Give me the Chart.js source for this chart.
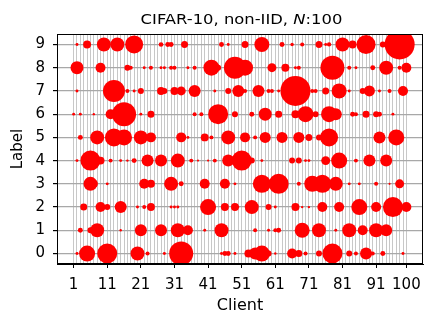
<!DOCTYPE html>
<html lang="en">
<head>
    <meta charset="UTF-8">
    <title>CIFAR-10, non-IID, N:100</title>
    <script src="https://cdn.jsdelivr.net/npm/chart.js"></script>
    <style>
        body {
            margin: 0;
            background: #fff;
            font-family: "DejaVu Sans", sans-serif;
        }
        #wrap {
            position: relative;
            width: 438px;
            height: 327px;
        }
        #title {
            position: absolute;
            left: 57px;
            width: 369px;
            top: 12px;
            text-align: center;
            font-size: 14px;
            line-height: 1;
            color: #000;
            transform: scaleX(1.17);
        }
        canvas {
            position: absolute;
            left: 0;
            top: 0;
        }
    </style>
</head>
<body>
    <div id="wrap">
        <canvas id="chart" width="438" height="327"></canvas>
        <div id="title">CIFAR-10, non-IID, <i>N</i>:100</div>
    </div>

    <script>
        // tick labels
        const xTicks = [1, 11, 21, 31, 41, 51, 61, 71, 81, 91, 100];
        const labelTicks = [0, 1, 2, 3, 4, 5, 6, 7, 8, 9];
        const clients = Array.from({ length: 100 }, (_, i) => i + 1);

        // samples per client for each label: [client, count]
        const label0 = [[2,6],[5,178],[11,278],[20,136],[23,11],[28,6],[33,400],[45,6],[46,17],[47,17],[49,6],[53,44],[55,100],[57,178],[59,25],[61,4],[66,69],[68,34],[70,11],[74,25],[78,278],[83,25],[85,11],[88,100],[90,11],[93,17],[99,6]];
        const label1 = [[3,17],[6,25],[8,136],[15,4],[21,100],[27,100],[32,136],[35,69],[40,6],[45,136],[55,11],[59,6],[61,11],[62,17],[69,156],[74,136],[79,6],[83,136],[87,69],[91,136],[94,100]];
        const label2 = [[4,34],[9,69],[11,25],[15,100],[20,6],[22,11],[24,44],[30,6],[31,6],[32,6],[41,178],[46,44],[49,44],[50,3],[54,136],[59,25],[61,6],[67,44],[69,4],[71,4],[75,69],[80,69],[86,178],[91,69],[96,278],[100,69]];
        const label3 = [[6,136],[7,44],[11,6],[22,69],[24,44],[30,136],[33,17],[40,69],[46,69],[49,6],[57,225],[62,278],[68,11],[72,178],[75,225],[79,136],[83,6],[86,6],[91,11],[95,3],[98,56]];
        const label4 = [[2,6],[6,278],[9,44],[12,11],[15,6],[17,4],[19,17],[23,100],[27,100],[32,136],[36,11],[38,3],[41,3],[43,11],[47,100],[51,278],[54,25],[57,6],[66,25],[68,25],[70,6],[71,6],[76,56],[80,178],[85,11],[89,100],[94,100]];
        const label5 = [[3,17],[8,136],[13,225],[16,178],[21,136],[24,69],[33,69],[35,6],[40,44],[42,11],[47,136],[52,69],[55,11],[58,84],[63,84],[68,84],[71,34],[74,25],[77,225],[92,100],[97,178]];
        const label6 = [[1,6],[3,6],[7,4],[12,69],[16,400],[21,6],[24,34],[37,11],[39,11],[44,278],[49,25],[54,17],[58,117],[62,34],[67,44],[70,178],[73,25],[77,178],[79,100],[84,17],[85,11],[88,34],[91,25],[92,17],[96,6]];
        const label7 = [[2,6],[13,336],[17,11],[19,6],[21,25],[27,44],[28,25],[31,44],[33,56],[37,100],[43,6],[47,25],[50,100],[52,11],[56,100],[59,11],[60,11],[62,6],[67,625],[72,11],[73,11],[76,34],[80,156],[83,6],[87,25],[89,84],[92,6],[95,11],[99,69]];
        const label8 = [[2,117],[9,69],[17,25],[18,11],[22,6],[24,11],[27,6],[28,6],[30,11],[31,11],[35,6],[37,11],[42,178],[44,25],[49,336],[52,178],[60,56],[64,44],[67,6],[68,11],[78,400],[83,11],[85,6],[90,17],[94,136],[98,11],[100,69]];
        const label9 = [[2,6],[5,44],[10,136],[14,136],[19,225],[27,15],[29,17],[30,17],[34,34],[45,17],[47,6],[52,34],[57,156],[63,17],[66,8],[69,11],[74,34],[76,6],[77,13],[81,136],[84,44],[88,250],[93,25],[98,625]];

        const rows = [label0, label1, label2, label3, label4, label5, label6, label7, label8, label9];

        const points = [];
        rows.forEach((row, label) => {
            row.forEach(([client, count]) => {
                points.push({ x: client, y: label, r: 0.6 * Math.sqrt(count) });
            });
        });

        const tickFont = { family: "DejaVu Sans", size: 15 };

        // black box round the plot
        const frame = {
            id: 'frame',
            afterDraw(chart) {
                const a = chart.chartArea;
                const ctx = chart.ctx;
                ctx.save();
                ctx.strokeStyle = '#000';
                ctx.lineWidth = 1;
                ctx.strokeRect(Math.round(a.left) + 0.5, Math.round(a.top) + 0.5,
                    Math.round(a.right - a.left) - 1, Math.round(a.bottom - a.top) - 1);
                ctx.restore();
            }
        };

        new Chart(document.getElementById('chart'), {
            type: 'bubble',
            data: {
                datasets: [{
                    data: points,
                    backgroundColor: '#ff0000',
                    borderWidth: 0,
                    hoverBorderWidth: 0,
                    clip: 0
                }]
            },
            options: {
                responsive: false,
                animation: false,
                layout: { padding: { top: 34, right: 12, left: 0, bottom: 0 } },
                plugins: { legend: { display: false }, tooltip: { enabled: false } },
                scales: {
                    x: {
                        type: 'linear',
                        position: 'bottom',
                        min: -3.95,
                        max: 104.95,
                        afterBuildTicks: s => { s.ticks = xTicks.map(v => ({ value: v })); },
                        afterFit: s => { s.height = 63; },
                        grid: { drawOnChartArea: false, tickLength: 4, tickColor: '#000' },
                        border: { color: '#000' },
                        ticks: { font: tickFont, color: '#000', padding: 8, autoSkip: false, maxRotation: 0 },
                        title: { display: true, text: 'Client', font: { family: "DejaVu Sans", size: 16 }, color: '#000', padding: { top: 0, bottom: 12 } }
                    },
                    xGrid: {
                        type: 'linear',
                        position: 'bottom',
                        min: -3.95,
                        max: 104.95,
                        afterBuildTicks: s => { s.ticks = clients.map(v => ({ value: v })); },
                        afterFit: s => { s.height = 0; },
                        grid: { color: '#c8c8c8', lineWidth: 1, drawTicks: false },
                        border: { display: false },
                        ticks: { display: false }
                    },
                    y: {
                        type: 'linear',
                        min: -0.45,
                        max: 9.45,
                        afterBuildTicks: s => { s.ticks = labelTicks.map(v => ({ value: v })); },
                        afterFit: s => { s.width = 57; },
                        grid: { color: '#a8a8a8', lineWidth: 1.2, tickLength: 4, tickColor: '#000' },
                        border: { color: '#000' },
                        ticks: { font: tickFont, color: '#000', padding: 8 },
                        title: { display: true, text: 'Label', font: { family: "DejaVu Sans", size: 15 }, color: '#000', padding: { top: 9, bottom: 0 } }
                    }
                }
            },
            plugins: [frame]
        });
    </script>
</body>
</html>
